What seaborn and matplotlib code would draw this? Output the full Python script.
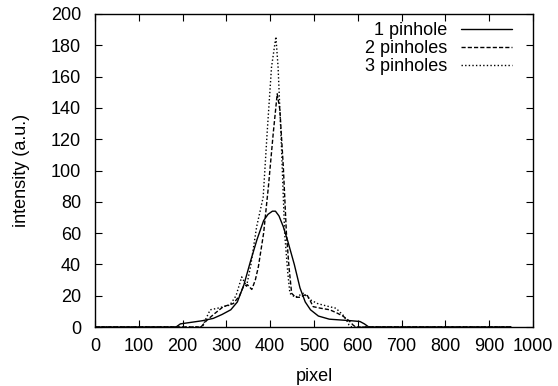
import matplotlib
matplotlib.use("Agg")
import matplotlib.pyplot as plt
import seaborn as sns
import pandas as pd

# 1 pinhole
x1 = [0, 185, 195, 220, 245, 270, 290, 310, 325, 340, 355, 370, 385, 395, 405, 412,
      420, 430, 440, 455, 468, 480, 492, 510, 535, 560, 585, 605, 615, 625, 950]
y1 = [0, 0, 2, 3, 4, 5.5, 8, 11, 16, 27, 42, 56, 68, 72, 74, 74,
      71, 64, 55, 40, 25, 16, 11, 7, 5, 4.5, 4, 3.5, 2, 0, 0]
# 2 pinholes
x2 = [0, 242, 256, 275, 293, 316, 330, 339, 348, 358, 366, 373, 385, 396, 407, 416,
      422, 430, 437, 443, 449, 458, 468, 483, 491, 498, 515, 536, 552, 566, 580, 589, 595, 950]
y2 = [0, 0, 4.5, 9, 13, 15, 20, 26, 27, 24, 30, 38.5, 60, 90, 124, 149,
      139, 102, 60, 38, 21.5, 19, 19, 21, 17, 13, 12, 11, 9, 7, 4, 1.3, 0, 0]
# 3 pinholes
x3 = [0, 245, 252, 263, 280, 293, 308, 322, 335, 346, 356, 369, 384, 393, 403, 413,
      418, 426, 433, 440, 445, 457, 476, 494, 508, 521, 535, 550, 566, 575, 580, 586, 950]
y3 = [0, 0, 4.5, 11, 12, 13, 14, 20, 32, 26, 40, 64, 83, 124, 166, 185.5,
      166, 113, 60, 35, 21.5, 19, 21.5, 17, 15, 14, 13, 12, 7.7, 4, 1.3, 0, 0]

labels = ["1 pinhole", "2 pinholes", "3 pinholes"]

df = pd.concat([
    pd.DataFrame({"pixel": x1, "intensity": y1, "series": labels[0]}),
    pd.DataFrame({"pixel": x2, "intensity": y2, "series": labels[1]}),
    pd.DataFrame({"pixel": x3, "intensity": y3, "series": labels[2]}),
])

sns.set_style("ticks")
plt.rcParams["font.family"] = ["Liberation Sans", "DejaVu Sans"]
plt.rcParams["text.color"] = "black"
plt.rcParams["axes.labelcolor"] = "black"
FS = 13

fig = plt.figure(figsize=(5.58, 3.86), dpi=100)
ax = fig.add_axes([95/558, 59/386, 438/558, 313/386])

sns.lineplot(data=df, x="pixel", y="intensity", hue="series", style="series",
             palette=["black"]*3, dashes=[(None, None), (3, 1.5), (1, 1.6)],
             linewidth=1.0, sort=False, ax=ax, legend=True)

ax.set_xlim(0, 1000)
ax.set_ylim(0, 200)
ax.set_xticks(range(0, 1001, 100))
ax.set_yticks(range(0, 201, 20))
ax.tick_params(axis="both", direction="in", top=True, right=True, labelsize=FS,
               length=5, width=0.8, colors="black", labelcolor="black")
ax.tick_params(axis="x", pad=8)
ax.tick_params(axis="y", pad=10)
for s in ax.spines.values():
    s.set_visible(True)
    s.set_linewidth(1.0)
    s.set_color("black")
ax.set_xlabel("pixel", fontsize=FS, labelpad=9, color="black")
ax.set_ylabel("intensity (a.u.)", fontsize=FS, labelpad=15, color="black")

handles, labs = ax.get_legend_handles_labels()
leg = ax.legend(handles, labs, loc="upper right", bbox_to_anchor=(0.952, 0.974),
                frameon=False, markerfirst=False, fontsize=FS, handlelength=2.8,
                labelspacing=0.06, borderaxespad=0, borderpad=0, handletextpad=0.8)
for t in leg.get_texts():
    t.set_color("black")
for h in leg.get_lines():
    h.set_linewidth(1.0)

fig.savefig("out.png", dpi=100)
